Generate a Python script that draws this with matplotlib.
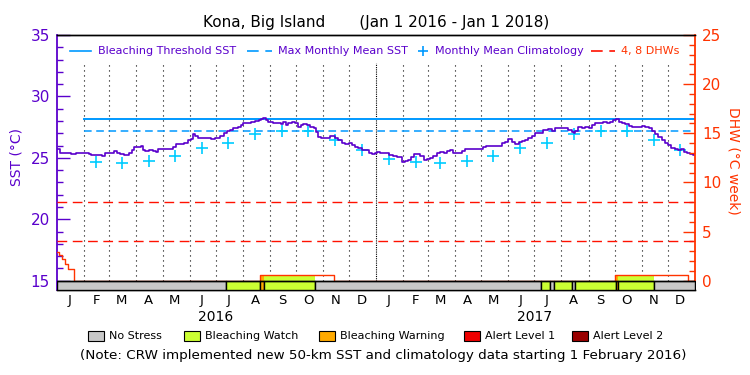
import numpy as np
import matplotlib
matplotlib.use("Agg")
import matplotlib.pyplot as plt
from matplotlib.lines import Line2D
from matplotlib.patches import Rectangle

plt.rcParams["font.family"] = ["DejaVu Sans"]

# ---- data (x = days since 1 Jan 2016) ----
sst_days = [0, 2, 5, 15, 17, 21, 23, 30, 32, 36, 38, 40, 51, 53, 57, 63, 67, 70, 74, 80,
            84, 88, 89, 91, 95, 97, 99, 103, 107, 112, 114, 118, 124, 131, 135, 137, 143,
            149, 151, 155, 157, 160, 164, 170, 175, 179, 183, 185, 189, 193, 196, 200, 204,
            210, 212, 214, 219, 225, 229, 233, 235, 238, 240, 244, 250, 256, 257, 261, 263,
            267, 271, 275, 278, 280, 284, 288, 292, 296, 298, 301, 303, 311, 315, 317, 320,
            324, 328, 332, 336, 340, 343, 347, 351, 355, 359, 362, 366, 368, 372, 378, 382,
            387, 391, 394, 397, 401, 404, 408, 410, 414, 418, 422, 425, 429, 433, 437, 441,
            445, 448, 452, 456, 462, 466, 469, 475, 481, 487, 490, 494, 502, 508, 511, 515,
            519, 523, 527, 531, 534, 538, 542, 546, 550, 552, 555, 559, 565, 569, 573, 578,
            584, 588, 592, 593, 595, 599, 603, 607, 611, 615, 618, 624, 628, 632, 636, 639,
            642, 645, 649, 653, 657, 660, 664, 668, 672, 676, 680, 683, 687, 691, 695, 699,
            702, 706, 710, 714, 716, 720, 723, 727, 730]
sst_vals = [25.70, 25.70, 25.37, 25.37, 25.32, 25.32, 25.37, 25.37, 25.42, 25.42, 25.34,
            25.24, 25.24, 25.18, 25.37, 25.37, 25.54, 25.42, 25.34, 25.24, 25.37, 25.64,
            25.91, 25.91, 25.86, 25.97, 25.64, 25.59, 25.64, 25.59, 25.48, 25.72, 25.70,
            25.70, 25.86, 26.11, 26.11, 26.19, 26.46, 26.51, 26.95, 26.78, 26.64, 26.64,
            26.60, 26.56, 26.60, 26.60, 26.78, 27.00, 27.21, 27.27, 27.41, 27.54, 27.68,
            27.87, 27.87, 27.92, 28.00, 28.09, 28.19, 28.22, 28.09, 27.95, 27.87, 27.87,
            27.76, 27.92, 27.68, 27.82, 27.90, 27.82, 27.54, 27.68, 27.76, 27.70, 27.54,
            27.41, 27.13, 26.73, 26.60, 26.60, 26.78, 26.78, 26.60, 26.46, 26.19, 26.11,
            26.19, 26.05, 25.91, 25.78, 25.64, 25.64, 25.42, 25.29, 25.37, 25.51, 25.42,
            25.37, 25.24, 25.15, 25.10, 25.10, 24.69, 24.75, 24.83, 25.10, 25.29, 25.29,
            25.15, 24.83, 24.89, 24.97, 25.15, 25.37, 25.51, 25.42, 25.59, 25.64, 25.42,
            25.37, 25.59, 25.70, 25.72, 25.72, 25.72, 25.86, 25.97, 26.00, 26.00, 26.19,
            26.32, 26.51, 26.32, 26.11, 26.32, 26.40, 26.46, 26.60, 26.78, 27.00, 27.05,
            27.00, 27.27, 27.33, 27.21, 27.41, 27.41, 27.41, 27.27, 27.13, 27.00, 27.21,
            27.49, 27.41, 27.54, 27.41, 27.68, 27.82, 27.87, 27.95, 27.82, 27.95, 28.09,
            28.14, 27.95, 27.87, 27.76, 27.60, 27.54, 27.49, 27.54, 27.60, 27.49, 27.41,
            27.21, 26.95, 26.73, 26.46, 26.24, 26.05, 25.78, 25.70, 25.64, 25.70, 25.51,
            25.37, 25.29, 25.24]

# monthly mean climatology, Jan..Dec (plotted Feb 2016 - Dec 2017)
clim_vals = [24.94, 24.70, 24.56, 24.75, 25.18, 25.78, 26.21, 26.95, 27.17, 27.17, 26.48, 25.66]
mmm = 27.17
bleach_thresh = 28.17
new_data_day = 31  # 1 Feb 2016

dhw_days = [0, 2.7, 6.1, 9.2, 12.6, 19.5, 232.5, 317.5, 639.5, 723.5, 731]
dhw_vals = [2.95, 2.6, 2.25, 1.75, 1.15, 0.0, 0.57, 0.0, 0.57, 0.0, 0.0]
dhw_refs = [4, 8]

stress_start = [0, 194, 233, 237, 296, 555, 565, 569.5, 590.5, 593.5, 640, 643, 684]
stress_end = [194, 233, 237, 296, 555, 565, 569.5, 590.5, 593.5, 640, 643, 684, 731]
stress_level = ["none", "watch", "warning", "watch", "none", "watch", "none", "watch",
                "none", "watch", "warning", "watch", "none"]

level_names = ["No Stress", "Bleaching Watch", "Bleaching Warning", "Alert Level 1", "Alert Level 2"]
level_keys = ["none", "watch", "warning", "alert1", "alert2"]
level_colors = ["#c8c8c8", "#ccff33", "#ffaa00", "#ee0000", "#990000"]
month_letters = ["J", "F", "M", "A", "M", "J", "J", "A", "S", "O", "N", "D"]
years = ["2016", "2017"]

PURPLE = "#5a00cc"
ORANGE = "#ff3300"
RED = "#ff1100"
BLUE = "#0099ff"
CYAN = "#00ccff"

start = np.datetime64("2016-01-01")
months = np.arange("2016-01", "2018-02", dtype="datetime64[M]")
month_days = (months.astype("datetime64[D]") - start).astype(int)
mid_days = month_days[:-1] + 14

fig = plt.figure(figsize=(7.5, 3.75), dpi=100)
ax = fig.add_axes([57 / 750, 1 - 290 / 375, 638 / 750, 255 / 375])
ax.set_xlim(0, 731)
ax.set_ylim(14.24, 35)
ax2 = ax.twinx()
ax2.set_ylim(-0.946, 25)

# month grid
for d in month_days[1:-1]:
    if d == 366:
        ax.plot([d, d], [15, 32.75], color="k", lw=0.8, ls=(0, (1, 1)), zorder=1)
    else:
        ax.plot([d, d], [15, 32.75], color="k", lw=0.8, ls=(0, (1, 3.5)), zorder=1)

# thresholds
ax.plot([new_data_day, 731], [bleach_thresh] * 2, color=BLUE, lw=1.4, zorder=2)
ax.plot([new_data_day, 731], [mmm] * 2, color=BLUE, lw=1.1, ls=(0, (5, 3)), zorder=2)

# climatology
clim_x = mid_days[1:]
clim_y = [clim_vals[i % 12] for i in range(1, 24)]
ax.plot(clim_x, clim_y, ls="none", marker="+", ms=8, mew=1.2, color=CYAN, zorder=3)

# SST
ax.plot(sst_days, sst_vals, color=PURPLE, lw=1.2, drawstyle="steps-mid", zorder=4)

# DHW and stress bar
def dhw_at(d):
    i = np.searchsorted(dhw_days, d, side="right") - 1
    return dhw_vals[i]

for s, e, lv in zip(stress_start, stress_end, stress_level):
    if lv != "none" and dhw_at(s) > 0:
        ax2.fill_between([s, e], 0, dhw_at(s), color=level_colors[level_keys.index(lv)],
                         lw=0, zorder=1)
ax2.plot(dhw_days, dhw_vals, color=ORANGE, lw=1.0, drawstyle="steps-post", zorder=2)
for r in dhw_refs:
    ax2.axhline(r, color=RED, lw=1.0, ls=(0, (7, 4)), zorder=2)

for s, e, lv in zip(stress_start, stress_end, stress_level):
    ax2.broken_barh([(s, e - s)], (-0.946, 0.946), facecolor=level_colors[level_keys.index(lv)],
                    edgecolor="k", lw=1.0, zorder=3)
ax2.axhline(0, color="k", lw=1.0, zorder=4)

# axes styling
ax.spines["right"].set_visible(False)
ax2.spines["left"].set_visible(False)
ax.spines["left"].set_color(PURPLE)
ax.spines["left"].set_linewidth(1.3)
ax2.spines["right"].set_color(ORANGE)
ax2.spines["right"].set_linewidth(1.3)
for a in (ax, ax2):
    a.spines["top"].set_linewidth(1.0)
    a.spines["bottom"].set_linewidth(1.0)

ax.set_yticks(range(15, 36, 5))
ax.set_yticks(range(15, 36), minor=True)
ax.tick_params(axis="y", which="major", direction="in", length=9, width=1, color=PURPLE,
               labelcolor=PURPLE, labelsize=11, pad=5)
ax.tick_params(axis="y", which="minor", direction="in", length=4.5, width=1, color=PURPLE)
ax2.set_yticks(range(0, 26, 5))
ax2.set_yticks(range(0, 26), minor=True)
ax2.tick_params(axis="y", which="major", direction="in", length=9, width=1, color=ORANGE,
                labelcolor=ORANGE, labelsize=11, pad=5)
ax2.tick_params(axis="y", which="minor", direction="in", length=4.5, width=1, color=ORANGE)

ax.set_xticks(mid_days)
ax.set_xticklabels(month_letters * 2)
ax.tick_params(axis="x", length=0, labelsize=9.5, pad=3)
for i, y in enumerate(years):
    ax.text(mid_days[6 + 12 * i] - 14, -0.105, y, transform=ax.get_xaxis_transform(),
            ha="center", va="center", fontsize=10)

fig.text(17 / 750, 1 - 157 / 375, "SST (°C)", rotation=90, color=PURPLE, fontsize=10,
         ha="center", va="center")
fig.text(733 / 750, 1 - 161 / 375, "DHW (°C week)", rotation=270, color=ORANGE, fontsize=10,
         ha="center", va="center")

fig.text(376 / 750, 1 - 22 / 375, "Kona, Big Island       (Jan 1 2016 - Jan 1 2018)",
         ha="center", va="center", fontsize=11)

# top legend
ly = 1 - 51 / 375
fig.add_artist(Line2D([70 / 750, 91 / 750], [ly, ly], color=BLUE, lw=1.2))
fig.text(98 / 750, ly, "Bleaching Threshold SST", color=PURPLE, fontsize=8, va="center")
fig.add_artist(Line2D([247 / 750, 272 / 750], [ly, ly], color=BLUE, lw=1.2, ls=(0, (7, 4))))
fig.text(278 / 750, ly, "Max Monthly Mean SST", color=PURPLE, fontsize=8, va="center")
fig.add_artist(Line2D([423 / 750], [ly], color=BLUE, marker="+", ms=7, mew=1.2, ls="none"))
fig.text(435 / 750, ly, "Monthly Mean Climatology", color=PURPLE, fontsize=8, va="center")
fig.add_artist(Line2D([591 / 750, 615 / 750], [ly, ly], color=RED, lw=1.2, ls=(0, (7, 4))))
fig.text(621 / 750, ly, "4, 8 DHWs", color=ORANGE, fontsize=8, va="center")

# stress legend
box_x = [88, 184, 319, 464, 572]
for bx, name, c in zip(box_x, level_names, level_colors):
    fig.add_artist(Rectangle((bx / 750, 1 - 341 / 375), 16 / 750, 10 / 375, facecolor=c,
                             edgecolor="k", lw=0.8, transform=fig.transFigure))
    fig.text((bx + 21) / 750, 1 - 336 / 375, name, fontsize=8, va="center")

fig.text(383 / 750, 1 - 356 / 375,
         "(Note: CRW implemented new 50-km SST and climatology data starting 1 February 2016)",
         ha="center", va="center", fontsize=9.7)

fig.savefig("out.png", dpi=100)
